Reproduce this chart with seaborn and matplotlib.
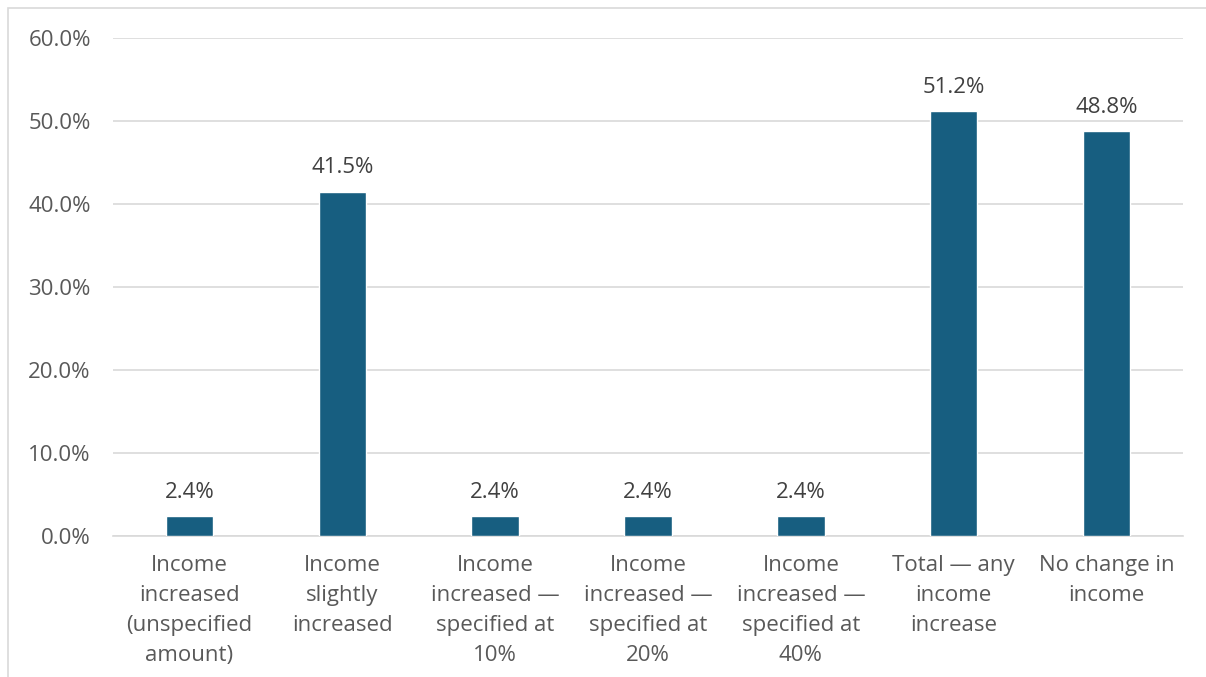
import pandas as pd
import numpy as np
import matplotlib
matplotlib.use("Agg")
import matplotlib.pyplot as plt
import seaborn as sns
from matplotlib.patches import Rectangle

# data
categories = [
    "Income\nincreased\n(unspecified\namount)",
    "Income\nslightly\nincreased",
    "Income\nincreased \u2014\nspecified at\n10%",
    "Income\nincreased \u2014\nspecified at\n20%",
    "Income\nincreased \u2014\nspecified at\n40%",
    "Total \u2014 any\nincome\nincrease",
    "No change in\nincome",
]
values = [2.4, 41.5, 2.4, 2.4, 2.4, 51.2, 48.8]
y_ticks = [0, 10, 20, 30, 40, 50, 60]

df = pd.DataFrame({"cat": categories, "pct": values})

sns.set_style("white")
plt.rcParams['font.family'] = ['Open Sans', 'DejaVu Sans']

txt = "#595959"
fs = 16
fig = plt.figure(figsize=(12.06, 6.77), dpi=100)
ax = fig.add_axes([0.0937, 0.2083, 0.8873, 0.7356])

sns.barplot(data=df, x="cat", y="pct", color="#175E80", width=0.31,
            saturation=1, ax=ax, zorder=3)

for i, v in enumerate(values):
    ax.text(i, v + 1.6, f"{v:.1f}%", ha="center", va="bottom",
            fontsize=fs, color="#404040")

ax.set_ylim(0, 60)
ax.set_yticks(y_ticks)
ax.set_yticklabels([f"{t:.1f}%" for t in y_ticks], fontsize=fs, color=txt)
ax.tick_params(axis="y", length=0, pad=16)
ax.tick_params(axis="x", length=0, pad=14, labelsize=fs, labelcolor=txt)
for lab in ax.get_xticklabels():
    lab.set_linespacing(1.56)
ax.set_xlabel("")
ax.set_ylabel("")
ax.grid(axis="y", color="#D9D9D9", linewidth=1.2, zorder=0)
for s in ["top", "right", "left"]:
    ax.spines[s].set_visible(False)
ax.spines["bottom"].set_color("#D9D9D9")
ax.spines["bottom"].set_linewidth(1.2)
ax.set_xlim(-0.5, len(values) - 0.5)

# chart-area border
fig.patches.append(Rectangle((8 / 1206, -0.05), 1.2, 1 - 8 / 677 + 0.05,
                             transform=fig.transFigure, fill=False,
                             edgecolor="#D9D9D9", linewidth=1.2))

fig.savefig("out.png", dpi=100)
